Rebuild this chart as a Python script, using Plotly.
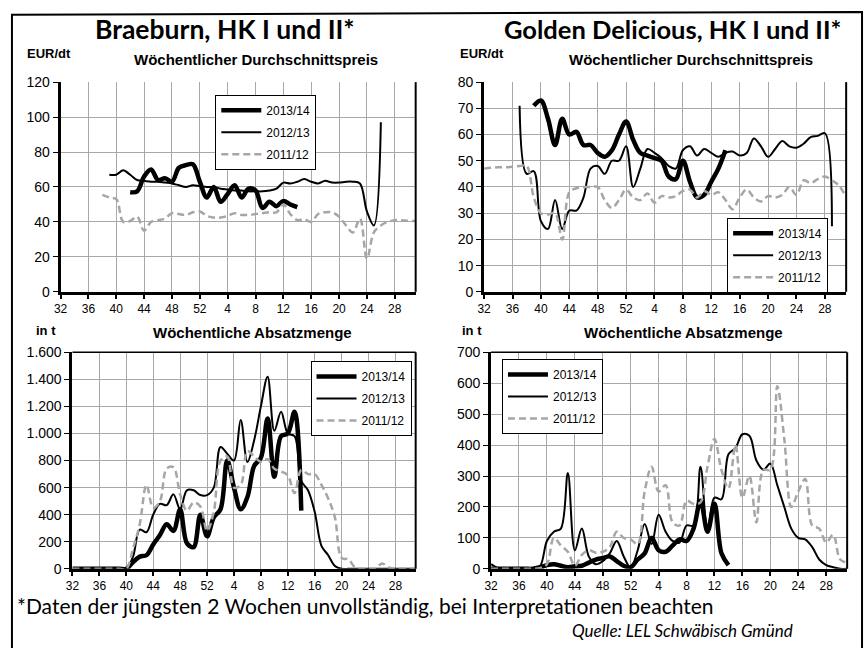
import plotly.graph_objects as go

W, H = 865, 648

# Category axis: weeks 32..52, 1..31 (index 0..51)
n_weeks = 52
week_index = list(range(n_weeks))
tick_index = list(range(0, 52, 4))
tick_labels = ["32", "36", "40", "44", "48", "52", "4", "8", "12", "16", "20", "24", "28"]

series_names = ["2013/14", "2012/13", "2011/12"]


def pad(start, values):
    out = [None] * n_weeks
    for i, v in enumerate(values):
        out[start + i] = v
    return out


# Braeburn price (EUR/dt)
bb_price_1314 = pad(10, [57, 57.5, 66, 70, 64, 65, 63, 71, 72.5, 73, 63, 54, 60, 51.5, 56, 61,
                         54, 59, 58, 48, 51.5, 49, 52, 50, 48.5])
bb_price_1213 = pad(7, [67, 67, 69.5, 67, 64, 63.5, 63, 63, 62.5, 62, 61, 60, 61, 60.5, 60, 60,
                        59, 58.5, 58, 58, 57.5, 57.5, 57.5, 58, 59, 62.5, 62, 63, 64.5, 63, 62,
                        63.5, 62.5, 62.5, 63, 63, 62, 46, 38, 97])
bb_price_1112 = pad(6, [55.5, 54, 53, 40, 40.5, 43, 35, 40, 41, 42, 45, 44.5, 44, 45.5, 46, 43.5,
                        42.5, 42.5, 43.5, 45, 44, 44, 44.5, 45, 45.5, 45.5, 50, 44.5, 41, 41.5,
                        40, 44.5, 45.5, 45.5, 43, 38, 34, 42, 19, 34, 38, 40, 41, 41, 40.5, 40.5])

# Golden Delicious price (EUR/dt)
gd_price_1314 = pad(7, [71, 73, 66, 56, 66, 60, 61, 56, 56, 53, 51.5, 54, 60, 65, 58, 53, 52,
                        51, 50, 44, 43, 50, 42, 36, 37, 42, 47, 54])
gd_price_1213 = pad(5, [71, 45, 46, 27, 24, 35, 24, 31, 31, 36, 47, 48, 45, 50, 50, 55.5, 40, 47,
                        54.5, 53, 51, 48, 47, 54, 55.5, 52, 54.5, 53, 51.5, 53, 53.5, 52, 53,
                        58.5, 55.5, 51.5, 54.5, 57.5, 55.5, 55, 56.5, 59, 59.5, 60.5, 25])
gd_price_1112 = pad(0, [47, 47.3, 47.5, 47.5, 47.7, 48, 48, 36, 30, 29.5, 30, 20, 38, 39.5, 40,
                        40, 40, 35, 32, 35, 39, 36, 35, 37.5, 34, 36.5, 36, 36.5, 38.5, 39, 36,
                        38.5, 37, 38, 35, 31.5, 36, 39, 36, 34.5, 36.5, 36, 37, 40, 37, 42.5,
                        41.5, 43, 44, 42.5, 40.5, 36])

# Braeburn volume (t)
bb_vol_1314 = pad(0, [0, 0, 0, 0, 0, 0, 0, 0, 0, 50, 90, 100, 180, 250, 330, 280, 440, 190, 160,
                      400, 240, 380, 440, 800, 600, 440, 530, 760, 820, 1110, 680, 980, 1000,
                      1160, 430])
bb_vol_1213 = pad(0, [0, 0, 0, 0, 0, 0, 0, 0, 0, 90, 290, 270, 400, 480, 470, 550, 440, 580, 580,
                      545, 545, 600, 900, 850, 800, 1100, 790, 950, 1200, 1420, 1020, 1160, 1000,
                      980, 650, 580, 420, 170, 100, 20, 0, 0, 0, 0, 0, 0, 0, 0, 0, 0, 0, 0])
bb_vol_1112 = pad(0, [0, 0, 0, 0, 0, 0, 0, 0, 0, 150, 330, 620, 450, 500, 740, 750, 550, 430, 490,
                      460, 280, 420, 800, 830, 600, 620, 870, 830, 790, 810, 740, 720, 690, 560,
                      730, 700, 700, 620, 520, 380, 80, 70, 10, 0, 0, 0, 40, 10, 0, 0, 0, 0])

# Golden Delicious volume (t)
gd_vol_1314 = pad(0, [0, 0, 0, 0, 0, 0, 0, 5, 12, 15, 10, 5, 8, 10, 20, 30, 35, 40, 25, 10, 5,
                      30, 50, 100, 60, 55, 75, 95, 90, 130, 220, 120, 210, 50, 12])
gd_vol_1213 = pad(0, [15, 2, 0, 0, 0, 2, 2, 8, 90, 120, 130, 310, 60, 130, 40, 15, 25, 50, 90,
                      40, 3, 60, 145, 80, 175, 120, 90, 85, 140, 140, 330, 120, 230, 225, 370,
                      390, 435, 430, 350, 320, 340, 270, 200, 130, 100, 95, 70, 30, 12, 5, 0, 0])
gd_vol_1112 = pad(0, [0, 0, 0, 0, 0, 0, 0, 2, 15, 100, 75, 55, 10, 45, 60, 52, 55, 70, 120, 100,
                      95, 80, 250, 330, 250, 270, 150, 140, 220, 210, 215, 330, 420, 320, 260,
                      400, 230, 300, 150, 320, 320, 590, 420, 200, 250, 290, 140, 130, 85, 110,
                      30, 20])

panels = [
    dict(data=[bb_price_1314, bb_price_1213, bb_price_1112], x=(54, 412), y=(76, 291),
         yrange=[0, 120], ydtick=20, legend=(210, 89)),
    dict(data=[gd_price_1314, gd_price_1213, gd_price_1112], x=(481, 846), y=(76, 291),
         yrange=[0, 80], ydtick=10, legend=(726, 215)),
    dict(data=[bb_vol_1314, bb_vol_1213, bb_vol_1112], x=(66, 412), y=(353, 575),
         yrange=[0, 1600], ydtick=200, legend=(306, 362)),
    dict(data=[gd_vol_1314, gd_vol_1213, gd_vol_1112], x=(488, 847), y=(353, 575),
         yrange=[0, 700], ydtick=100, legend=(499, 360)),
]

styles = [
    dict(color="black", width=4.5, dash="solid"),
    dict(color="black", width=2, dash="solid"),
    dict(color="#a6a6a6", width=2.5, dash="7px,4px"),
]

AX_FONT = "Liberation Sans, Arial, sans-serif"
fig = go.Figure()
layout = dict(width=W, height=H, margin=dict(l=0, r=0, t=0, b=0),
              paper_bgcolor="white", plot_bgcolor="white", showlegend=True,
              separators=",.")
shapes = []

for k, p in enumerate(panels):
    n = "" if k == 0 else str(k + 1)
    xa, ya = "x" + n, "y" + n
    lg = "legend" + n
    for s, (vals, st, name) in enumerate(zip(p["data"], styles, series_names)):
        fig.add_trace(go.Scatter(
            x=week_index, y=vals, mode="lines", name=name,
            line=dict(color=st["color"], width=st["width"], dash=st["dash"],
                      shape="spline", smoothing=1.0),
            connectgaps=False, xaxis=xa, yaxis=ya, legend=lg,
            legendgroup=f"g{k}{s}", hoverinfo="skip"))
    x0, x1 = p["x"]
    y0, y1 = p["y"]
    layout["xaxis" + n] = dict(
        domain=[x0 / W, x1 / W], range=[0, 51], anchor=ya,
        tickmode="array", tickvals=tick_index, ticktext=tick_labels,
        showgrid=True, gridcolor="#a8a8a8", gridwidth=1,
        showline=True, linecolor="black", linewidth=3,
        ticks="outside", ticklen=4, tickwidth=2, tickcolor="black",
        tickfont=dict(family=AX_FONT, size=12, color="black"),
        zeroline=False, fixedrange=True)
    layout["yaxis" + n] = dict(
        domain=[1 - y1 / H, 1 - y0 / H], range=p["yrange"], anchor=xa,
        dtick=p["ydtick"], tick0=0, separatethousands=True,
        showgrid=True, gridcolor="#a8a8a8", gridwidth=1,
        showline=True, linecolor="black", linewidth=3,
        ticks="outside", ticklen=5, tickwidth=1, tickcolor="black",
        tickfont=dict(family=AX_FONT, size=14, color="black"),
        zeroline=False, fixedrange=True)
    lx, ly = p["legend"]
    layout[lg] = dict(
        x=lx / W, y=1 - ly / H, xanchor="left", yanchor="top",
        xref="paper", yref="paper",
        bgcolor="white", bordercolor="black", borderwidth=1,
        font=dict(family=AX_FONT, size=12, color="black"),
        traceorder="grouped", tracegroupgap=3, itemwidth=40)
    # right edge of plot area
    shapes.append(dict(type="line", xref=xa + " domain", yref=ya + " domain",
                       x0=1, x1=1, y0=0, y1=1, line=dict(color="black", width=2)))
    if k >= 2:
        shapes.append(dict(type="line", xref=xa + " domain", yref=ya + " domain",
                           x0=0, x1=1, y0=1, y1=1, line=dict(color="black", width=1.5)))

# outer frame
shapes.append(dict(type="path", xref="paper", yref="paper",
                   path=f"M {5/W},{-0.1} L {5/W},{1-7/H} L {862/W},{1-4/H} L {862/W},{-0.1}",
                   line=dict(color="black", width=2)))

TITLE_FONT = "Lato, Open Sans, sans-serif"
ann = []


def text(x, y, s, size, family=AX_FONT, bold=False, italic=False, xanchor="center"):
    if bold:
        s = f"<b>{s}</b>"
    if italic:
        s = f"<i>{s}</i>"
    ann.append(dict(x=x / W, y=1 - y / H, xref="paper", yref="paper", text=s,
                    showarrow=False, xanchor=xanchor, yanchor="middle",
                    font=dict(family=family, size=size, color="black")))


text(220, 22, "Braeburn, HK I und II*", 26.5, TITLE_FONT, bold=True)
text(671, 22, "Golden Delicious, HK I und II*", 25.5, TITLE_FONT, bold=True)
text(18, 47, "EUR/dt", 13, bold=True, xanchor="left")
text(251, 53, "Wöchentlicher Durchschnittspreis", 15, bold=True)
text(455, 47, "EUR/dt", 13, bold=True, xanchor="left")
text(690, 53, "Wöchentlicher Durchschnittspreis", 15, bold=True)
text(27, 331, "in t", 13, bold=True, xanchor="left")
text(247, 333, "Wöchentliche Absatzmenge", 15, bold=True)
text(457, 331, "in t", 13, bold=True, xanchor="left")
text(682, 333, "Wöchentliche Absatzmenge", 15, bold=True)
text(8, 613, "*Daten der jüngsten 2 Wochen unvollständig, bei Interpretationen beachten", 21,
     TITLE_FONT, xanchor="left")
text(568, 638, "Quelle: LEL Schwäbisch Gmünd", 17, TITLE_FONT, italic=True, xanchor="left")

layout["shapes"] = shapes
layout["annotations"] = ann
fig.update_layout(**layout)
fig.write_html(
    "out.html",
    config={"displayModeBar": False, "staticPlot": True},
    post_script=("document.documentElement.style.margin='0';"
                 "document.body.style.margin='0';document.body.style.padding='0';"
                 "document.body.style.overflow='hidden';"
                 "var d=document.getElementById('{plot_id}');"
                 "d.style.position='fixed';d.style.left='0px';d.style.top='0px';"
                 "if(d.parentElement){d.parentElement.style.margin='0';}"))
